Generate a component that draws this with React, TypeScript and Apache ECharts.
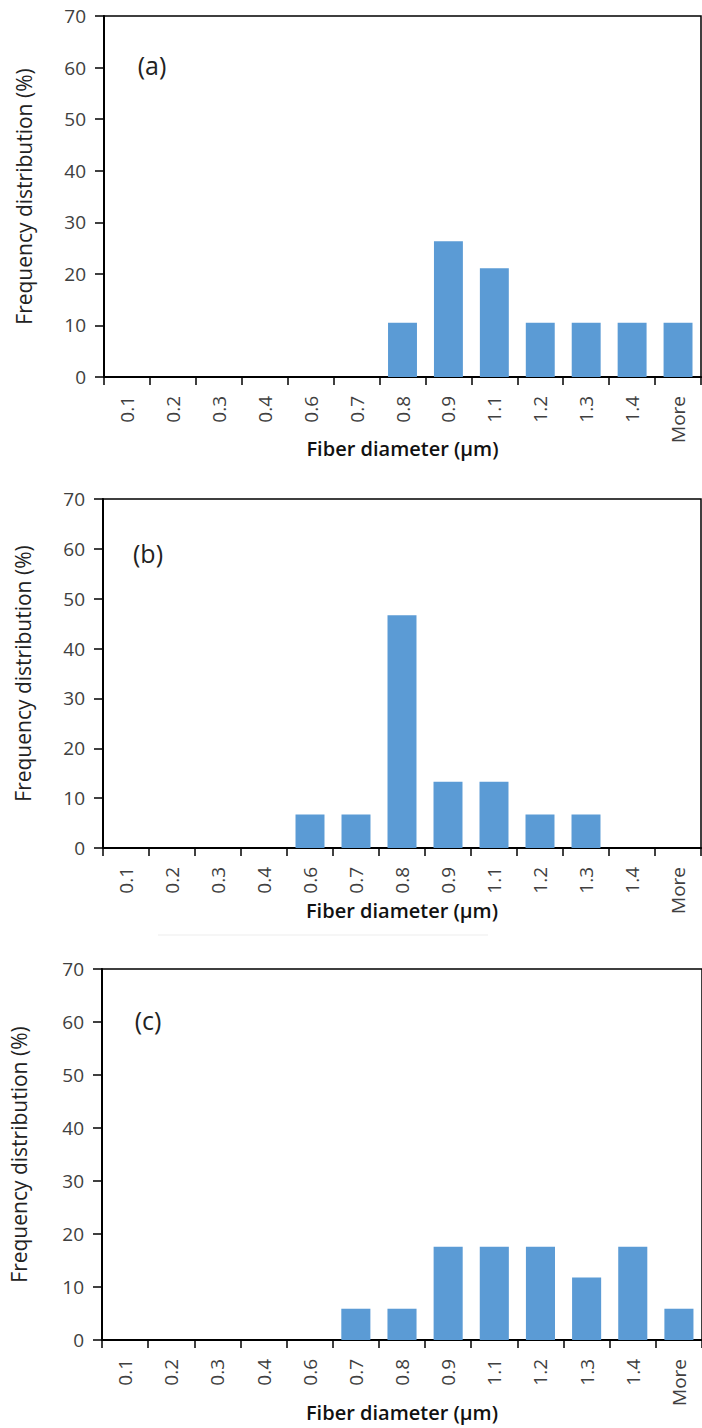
import React, { useEffect, useRef } from "react";
import * as echarts from "echarts";

const categories = ["0.1", "0.2", "0.3", "0.4", "0.6", "0.7", "0.8", "0.9", "1.1", "1.2", "1.3", "1.4", "More"];
const valuesA = [0, 0, 0, 0, 0, 0, 10.5, 26.3, 21.1, 10.5, 10.5, 10.5, 10.5];
const valuesB = [0, 0, 0, 0, 6.7, 6.7, 46.7, 13.3, 13.3, 6.7, 6.7, 0, 0];
const valuesC = [0, 0, 0, 0, 0, 5.9, 5.9, 17.6, 17.6, 17.6, 11.8, 17.6, 5.9];
const panelLabels = ["(a)", "(b)", "(c)"];
const yMin = 0;
const yMax = 70;
const yInterval = 10;
const xTitle = "Fiber diameter (μm)";
const yTitle = "Frequency distribution (%)";

const FONT = "'Open Sans', 'Noto Sans', sans-serif";

export default function App() {
  const ref = useRef<HTMLDivElement>(null);
  useEffect(() => {
    if (!ref.current) return;
    const chart = echarts.init(ref.current, null, { renderer: "svg" });
    const grids = [
      { left: 104, top: 16, width: 597, height: 361 },
      { left: 103, top: 499, width: 598, height: 349 },
      { left: 97, top: 969, width: 612, height: 371 },
    ];
    const xNameGaps = [61, 52, 62];
    const yNameGaps = [70, 70, 73];
    const series = [valuesA, valuesB, valuesC];
    const labelPos = [
      [152, 65],
      [148, 553],
      [148, 1020],
    ];
    chart.setOption({
      animation: false,
      textStyle: { fontFamily: FONT },
      grid: grids.map((g) => ({
        ...g,
        show: true,
        borderColor: "#000",
        borderWidth: 1.5,
        backgroundColor: "transparent",
        containLabel: false,
      })),
      xAxis: grids.map((_, i) => ({
        type: "category",
        gridIndex: i,
        data: categories,
        name: xTitle,
        nameLocation: "middle",
        nameGap: xNameGaps[i],
        nameMoveOverlap: false,
        nameTextStyle: { fontFamily: FONT, fontSize: 20, lineHeight: 21, color: "#111", fontWeight: 600 },
        axisLine: { show: true, lineStyle: { color: "#000", width: 2 } },
        axisTick: { show: true, inside: false, length: 8, interval: 0, alignWithLabel: false, lineStyle: { color: "#000", width: 1.5 } },
        axisLabel: { rotate: 90, interval: 0, margin: 19, fontSize: 19, color: "#404040", fontFamily: FONT },
        splitLine: { show: false },
      })),
      yAxis: grids.map((_, i) => ({
        type: "value",
        gridIndex: i,
        min: yMin,
        max: yMax,
        interval: yInterval,
        name: yTitle,
        nameLocation: "middle",
        nameGap: yNameGaps[i],
        nameMoveOverlap: false,
        nameTextStyle: { fontFamily: FONT, fontSize: 21, color: "#222" },
        axisLine: { show: true, lineStyle: { color: "#000", width: 2 } },
        axisTick: { show: true, inside: false, length: 9, lineStyle: { color: "#000", width: 1.5 } },
        axisLabel: { margin: 18, fontSize: 19, color: "#404040", fontFamily: FONT },
        splitLine: { show: false },
      })),
      series: series.map((vals, i) => ({
        type: "bar",
        xAxisIndex: i,
        yAxisIndex: i,
        data: vals,
        barCategoryGap: "37%",
        itemStyle: { color: "#5B9BD5", borderWidth: 0 },
      })),
      graphic: [
        ...panelLabels.map((t, i) => ({
          type: "text",
          x: labelPos[i][0],
          y: labelPos[i][1],
          style: {
            text: t,
            fontFamily: FONT,
            fontSize: 25,
            fill: "#222",
            textAlign: "center",
            textVerticalAlign: "middle",
          },
        })),
        {
          type: "line",
          shape: { x1: 158, y1: 935, x2: 488, y2: 935 },
          style: { stroke: "#f6f6f6", lineWidth: 2 },
        },
      ],
    });
    return () => chart.dispose();
  }, []);
  return (
    <div
      ref={ref}
      style={{ position: "absolute", left: 0, top: 0, width: 702, height: 1428, background: "#fff" }}
    />
  );
}
